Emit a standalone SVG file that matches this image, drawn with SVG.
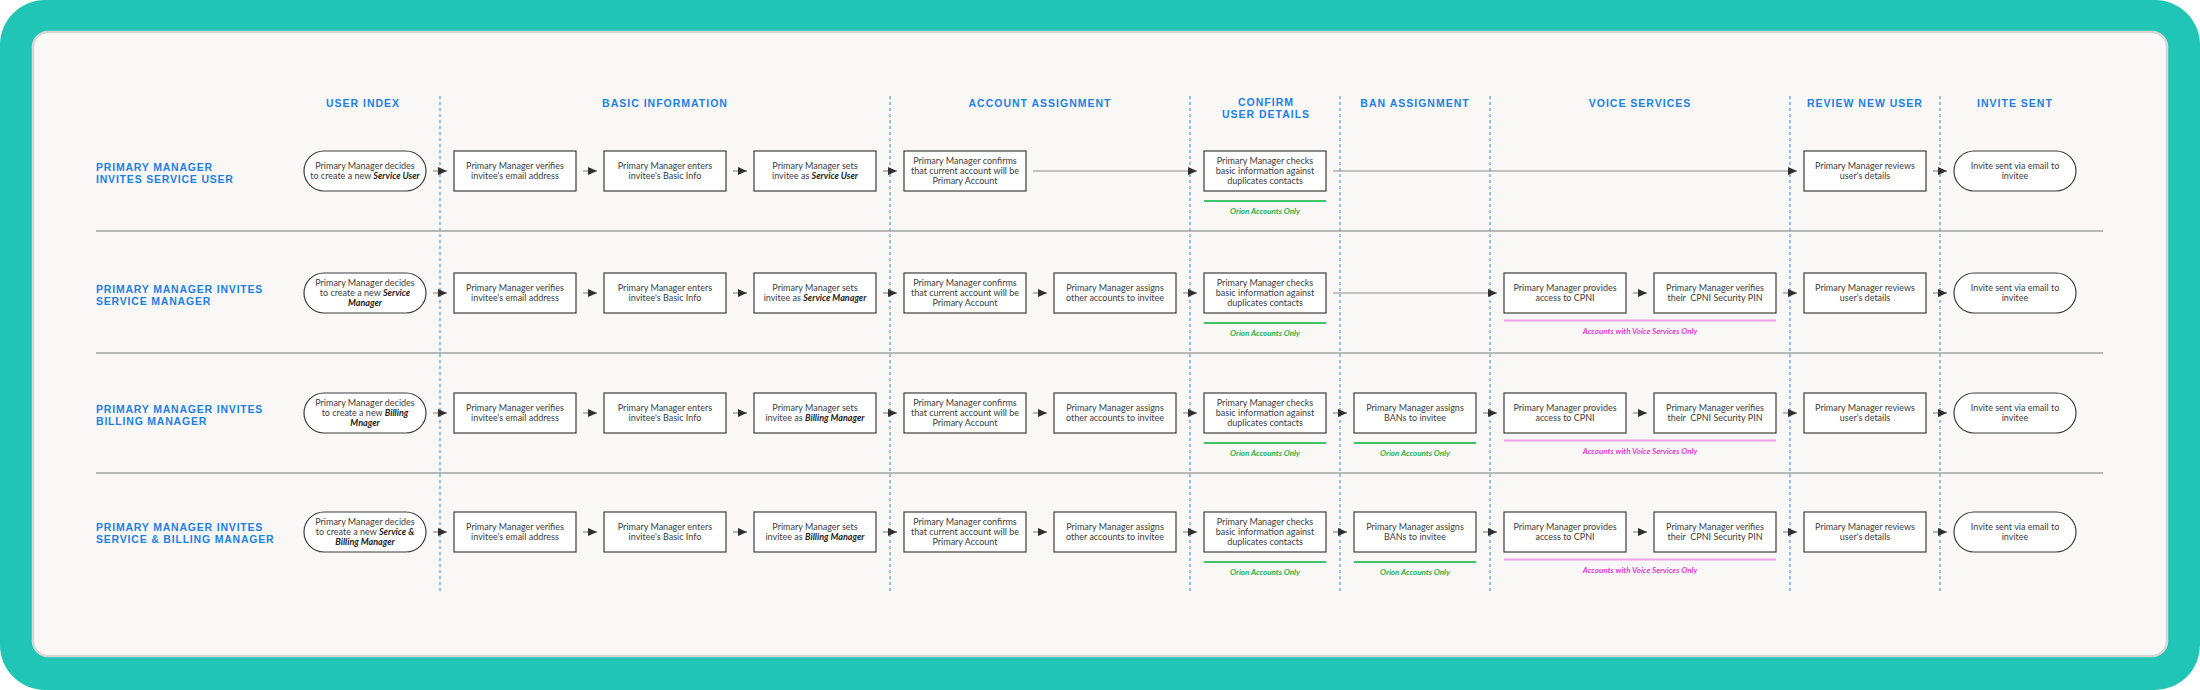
<svg xmlns="http://www.w3.org/2000/svg" width="2200" height="690" viewBox="0 0 2200 690">
<style>
.n{fill:#fff;stroke:#3d3d3d;stroke-width:1.2}
.t{font-family:Lato,"Liberation Sans",sans-serif;font-size:9px;fill:#3c3c3c;text-anchor:middle}
.b{font-weight:bold;font-style:italic;fill:#222}
.h{font-family:"Liberation Sans",Arial,sans-serif;font-weight:bold;font-size:10.5px;letter-spacing:1px;fill:#1d7fe2;text-anchor:middle}
.r{font-family:"Liberation Sans",Arial,sans-serif;font-weight:bold;font-size:10.5px;letter-spacing:0.8px;fill:#1d7fe2}
.gl{stroke:#3ec46a;stroke-width:2}
.pl{stroke:#f0a2e6;stroke-width:2}
.g{font-family:Lato,"Liberation Sans",sans-serif;font-size:8px;font-weight:bold;font-style:italic;fill:#22b14c;text-anchor:middle}
.p{font-family:Lato,"Liberation Sans",sans-serif;font-size:8px;font-weight:bold;font-style:italic;fill:#e03ccc;text-anchor:middle}
.v{stroke:#2a86e8;stroke-width:1;stroke-dasharray:3 3;fill:none}
.s{stroke:#a3a3a3;stroke-width:1.5}
.c{stroke:#8a8a8a;stroke-width:1.2;fill:none;marker-end:url(#ah)}
</style>
<defs>
<marker id="ah" markerUnits="userSpaceOnUse" markerWidth="10" markerHeight="10" refX="9" refY="4" orient="auto">
<path d="M0,0 L9,4 L0,8 z" fill="#2f2f2f"/>
</marker>
</defs>
<rect x="0" y="0" width="2200" height="690" rx="45" fill="#21c5b5"/>
<rect x="33" y="32" width="2134" height="624" rx="15" fill="#f9f8f6" stroke="#d6d6d6" stroke-width="2.5"/>

<g id="lanes">
<path class="v" d="M440 96V593M890 96V593M1190 96V593M1340 96V593M1490 96V593M1790 96V593M1940 96V593"/>
<path class="s" d="M96 231H2103M96 353H2103M96 473H2103"/>
</g>

<g id="headings">
<text class="h" x="363" y="106.5">USER INDEX</text>
<text class="h" x="665" y="106.5">BASIC INFORMATION</text>
<text class="h" x="1040" y="106.5">ACCOUNT ASSIGNMENT</text>
<text class="h" x="1266" y="106">CONFIRM</text>
<text class="h" x="1266" y="118">USER DETAILS</text>
<text class="h" x="1415" y="106.5">BAN ASSIGNMENT</text>
<text class="h" x="1640" y="106.5">VOICE SERVICES</text>
<text class="h" x="1865" y="106.5">REVIEW NEW USER</text>
<text class="h" x="2015" y="106.5">INVITE SENT</text>
</g>

<g id="row-labels">
<text class="r" x="96" y="170.5">PRIMARY MANAGER</text>
<text class="r" x="96" y="182.5">INVITES SERVICE USER</text>
<text class="r" x="96" y="292.5">PRIMARY MANAGER INVITES</text>
<text class="r" x="96" y="304.5">SERVICE MANAGER</text>
<text class="r" x="96" y="412.5">PRIMARY MANAGER INVITES</text>
<text class="r" x="96" y="424.5">BILLING MANAGER</text>
<text class="r" x="96" y="531">PRIMARY MANAGER INVITES</text>
<text class="r" x="96" y="543">SERVICE &amp; BILLING MANAGER</text>
</g>

<g id="connectors">
<path class="c" d="M433 171H447"/><path class="c" d="M583 171H597"/><path class="c" d="M733 171H747"/><path class="c" d="M883 171H897"/><path class="c" d="M1033 171H1197"/><path class="c" d="M1333 171H1797"/><path class="c" d="M1933 171H1947"/>
<path class="c" d="M433 293H447"/><path class="c" d="M583 293H597"/><path class="c" d="M733 293H747"/><path class="c" d="M883 293H897"/><path class="c" d="M1033 293H1047"/><path class="c" d="M1183 293H1197"/><path class="c" d="M1333 293H1497"/><path class="c" d="M1633 293H1647"/><path class="c" d="M1783 293H1797"/><path class="c" d="M1933 293H1947"/>
<path class="c" d="M433 413H447"/><path class="c" d="M583 413H597"/><path class="c" d="M733 413H747"/><path class="c" d="M883 413H897"/><path class="c" d="M1033 413H1047"/><path class="c" d="M1183 413H1197"/><path class="c" d="M1333 413H1347"/><path class="c" d="M1483 413H1497"/><path class="c" d="M1633 413H1647"/><path class="c" d="M1783 413H1797"/><path class="c" d="M1933 413H1947"/>
<path class="c" d="M433 532H447"/><path class="c" d="M583 532H597"/><path class="c" d="M733 532H747"/><path class="c" d="M883 532H897"/><path class="c" d="M1033 532H1047"/><path class="c" d="M1183 532H1197"/><path class="c" d="M1333 532H1347"/><path class="c" d="M1483 532H1497"/><path class="c" d="M1633 532H1647"/><path class="c" d="M1783 532H1797"/><path class="c" d="M1933 532H1947"/>
</g>

<g id="notes">
<path class="gl" d="M1204 201H1326M1204 323H1326M1204 443H1326M1354 443H1476M1204 562H1326M1354 562H1476"/>
<path class="pl" d="M1504 320.5H1776M1504 440.5H1776M1504 559.5H1776"/>
<text class="g" x="1265" y="214">Orion Accounts Only</text>
<text class="g" x="1265" y="336">Orion Accounts Only</text>
<text class="g" x="1265" y="456">Orion Accounts Only</text>
<text class="g" x="1415" y="456">Orion Accounts Only</text>
<text class="g" x="1265" y="575">Orion Accounts Only</text>
<text class="g" x="1415" y="575">Orion Accounts Only</text>
<text class="p" x="1640" y="333.5">Accounts with Voice Services Only</text>
<text class="p" x="1640" y="453.5">Accounts with Voice Services Only</text>
<text class="p" x="1640" y="572.5">Accounts with Voice Services Only</text>
</g>

<!-- Row 1 -->
<g id="r1-start"><rect class="n" x="304" y="151" width="122" height="40" rx="20"/><text class="t" x="365" y="169">Primary Manager decides</text><text class="t" x="365" y="179">to create a new <tspan class="b">Service User</tspan></text></g>
<g id="r1-verify"><rect class="n" x="454" y="151" width="122" height="40"/><text class="t" x="515" y="169">Primary Manager verifies</text><text class="t" x="515" y="179">invitee's email address</text></g>
<g id="r1-enter"><rect class="n" x="604" y="151" width="122" height="40"/><text class="t" x="665" y="169">Primary Manager enters</text><text class="t" x="665" y="179">invitee's Basic Info</text></g>
<g id="r1-set"><rect class="n" x="754" y="151" width="122" height="40"/><text class="t" x="815" y="169">Primary Manager sets</text><text class="t" x="815" y="179">invitee as <tspan class="b">Service User</tspan></text></g>
<g id="r1-confirm"><rect class="n" x="904" y="151" width="122" height="40"/><text class="t" x="965" y="164">Primary Manager confirms</text><text class="t" x="965" y="174">that current account will be</text><text class="t" x="965" y="184">Primary Account</text></g>
<g id="r1-check"><rect class="n" x="1204" y="151" width="122" height="40"/><text class="t" x="1265" y="164">Primary Manager checks</text><text class="t" x="1265" y="174">basic information against</text><text class="t" x="1265" y="184">duplicates contacts</text></g>
<g id="r1-review"><rect class="n" x="1804" y="151" width="122" height="40"/><text class="t" x="1865" y="169">Primary Manager reviews</text><text class="t" x="1865" y="179">user's details</text></g>
<g id="r1-sent"><rect class="n" x="1954" y="151" width="122" height="40" rx="20"/><text class="t" x="2015" y="169">Invite sent via email to</text><text class="t" x="2015" y="179">invitee</text></g>

<!-- Row 2 -->
<g id="r2-start"><rect class="n" x="304" y="273" width="122" height="40" rx="20"/><text class="t" x="365" y="286">Primary Manager decides</text><text class="t" x="365" y="296">to create a new <tspan class="b">Service</tspan></text><text class="t b" x="365" y="306">Manager</text></g>
<g id="r2-verify"><rect class="n" x="454" y="273" width="122" height="40"/><text class="t" x="515" y="291">Primary Manager verifies</text><text class="t" x="515" y="301">invitee's email address</text></g>
<g id="r2-enter"><rect class="n" x="604" y="273" width="122" height="40"/><text class="t" x="665" y="291">Primary Manager enters</text><text class="t" x="665" y="301">invitee's Basic Info</text></g>
<g id="r2-set"><rect class="n" x="754" y="273" width="122" height="40"/><text class="t" x="815" y="291">Primary Manager sets</text><text class="t" x="815" y="301">invitee as <tspan class="b">Service Manager</tspan></text></g>
<g id="r2-confirm"><rect class="n" x="904" y="273" width="122" height="40"/><text class="t" x="965" y="286">Primary Manager confirms</text><text class="t" x="965" y="296">that current account will be</text><text class="t" x="965" y="306">Primary Account</text></g>
<g id="r2-assign"><rect class="n" x="1054" y="273" width="122" height="40"/><text class="t" x="1115" y="291">Primary Manager assigns</text><text class="t" x="1115" y="301">other accounts to invitee</text></g>
<g id="r2-check"><rect class="n" x="1204" y="273" width="122" height="40"/><text class="t" x="1265" y="286">Primary Manager checks</text><text class="t" x="1265" y="296">basic information against</text><text class="t" x="1265" y="306">duplicates contacts</text></g>
<g id="r2-cpni"><rect class="n" x="1504" y="273" width="122" height="40"/><text class="t" x="1565" y="291">Primary Manager provides</text><text class="t" x="1565" y="301">access to CPNI</text></g>
<g id="r2-pin"><rect class="n" x="1654" y="273" width="122" height="40"/><text class="t" x="1715" y="291">Primary Manager verifies</text><text class="t" x="1715" y="301" xml:space="preserve">their  CPNI Security PIN</text></g>
<g id="r2-review"><rect class="n" x="1804" y="273" width="122" height="40"/><text class="t" x="1865" y="291">Primary Manager reviews</text><text class="t" x="1865" y="301">user's details</text></g>
<g id="r2-sent"><rect class="n" x="1954" y="273" width="122" height="40" rx="20"/><text class="t" x="2015" y="291">Invite sent via email to</text><text class="t" x="2015" y="301">invitee</text></g>

<!-- Row 3 -->
<g id="r3-start"><rect class="n" x="304" y="393" width="122" height="40" rx="20"/><text class="t" x="365" y="406">Primary Manager decides</text><text class="t" x="365" y="416">to create a new <tspan class="b">Billing</tspan></text><text class="t b" x="365" y="426">Mnager</text></g>
<g id="r3-verify"><rect class="n" x="454" y="393" width="122" height="40"/><text class="t" x="515" y="411">Primary Manager verifies</text><text class="t" x="515" y="421">invitee's email address</text></g>
<g id="r3-enter"><rect class="n" x="604" y="393" width="122" height="40"/><text class="t" x="665" y="411">Primary Manager enters</text><text class="t" x="665" y="421">invitee's Basic Info</text></g>
<g id="r3-set"><rect class="n" x="754" y="393" width="122" height="40"/><text class="t" x="815" y="411">Primary Manager sets</text><text class="t" x="815" y="421">invitee as <tspan class="b">Billing Manager</tspan></text></g>
<g id="r3-confirm"><rect class="n" x="904" y="393" width="122" height="40"/><text class="t" x="965" y="406">Primary Manager confirms</text><text class="t" x="965" y="416">that current account will be</text><text class="t" x="965" y="426">Primary Account</text></g>
<g id="r3-assign"><rect class="n" x="1054" y="393" width="122" height="40"/><text class="t" x="1115" y="411">Primary Manager assigns</text><text class="t" x="1115" y="421">other accounts to invitee</text></g>
<g id="r3-check"><rect class="n" x="1204" y="393" width="122" height="40"/><text class="t" x="1265" y="406">Primary Manager checks</text><text class="t" x="1265" y="416">basic information against</text><text class="t" x="1265" y="426">duplicates contacts</text></g>
<g id="r3-ban"><rect class="n" x="1354" y="393" width="122" height="40"/><text class="t" x="1415" y="411">Primary Manager assigns</text><text class="t" x="1415" y="421">BANs to invitee</text></g>
<g id="r3-cpni"><rect class="n" x="1504" y="393" width="122" height="40"/><text class="t" x="1565" y="411">Primary Manager provides</text><text class="t" x="1565" y="421">access to CPNI</text></g>
<g id="r3-pin"><rect class="n" x="1654" y="393" width="122" height="40"/><text class="t" x="1715" y="411">Primary Manager verifies</text><text class="t" x="1715" y="421" xml:space="preserve">their  CPNI Security PIN</text></g>
<g id="r3-review"><rect class="n" x="1804" y="393" width="122" height="40"/><text class="t" x="1865" y="411">Primary Manager reviews</text><text class="t" x="1865" y="421">user's details</text></g>
<g id="r3-sent"><rect class="n" x="1954" y="393" width="122" height="40" rx="20"/><text class="t" x="2015" y="411">Invite sent via email to</text><text class="t" x="2015" y="421">invitee</text></g>

<!-- Row 4 -->
<g id="r4-start"><rect class="n" x="304" y="512" width="122" height="40" rx="20"/><text class="t" x="365" y="525">Primary Manager decides</text><text class="t" x="365" y="535">to create a new <tspan class="b">Service &amp;</tspan></text><text class="t b" x="365" y="545">Billing Manager</text></g>
<g id="r4-verify"><rect class="n" x="454" y="512" width="122" height="40"/><text class="t" x="515" y="530">Primary Manager verifies</text><text class="t" x="515" y="540">invitee's email address</text></g>
<g id="r4-enter"><rect class="n" x="604" y="512" width="122" height="40"/><text class="t" x="665" y="530">Primary Manager enters</text><text class="t" x="665" y="540">invitee's Basic Info</text></g>
<g id="r4-set"><rect class="n" x="754" y="512" width="122" height="40"/><text class="t" x="815" y="530">Primary Manager sets</text><text class="t" x="815" y="540">invitee as <tspan class="b">Billing Manager</tspan></text></g>
<g id="r4-confirm"><rect class="n" x="904" y="512" width="122" height="40"/><text class="t" x="965" y="525">Primary Manager confirms</text><text class="t" x="965" y="535">that current account will be</text><text class="t" x="965" y="545">Primary Account</text></g>
<g id="r4-assign"><rect class="n" x="1054" y="512" width="122" height="40"/><text class="t" x="1115" y="530">Primary Manager assigns</text><text class="t" x="1115" y="540">other accounts to invitee</text></g>
<g id="r4-check"><rect class="n" x="1204" y="512" width="122" height="40"/><text class="t" x="1265" y="525">Primary Manager checks</text><text class="t" x="1265" y="535">basic information against</text><text class="t" x="1265" y="545">duplicates contacts</text></g>
<g id="r4-ban"><rect class="n" x="1354" y="512" width="122" height="40"/><text class="t" x="1415" y="530">Primary Manager assigns</text><text class="t" x="1415" y="540">BANs to invitee</text></g>
<g id="r4-cpni"><rect class="n" x="1504" y="512" width="122" height="40"/><text class="t" x="1565" y="530">Primary Manager provides</text><text class="t" x="1565" y="540">access to CPNI</text></g>
<g id="r4-pin"><rect class="n" x="1654" y="512" width="122" height="40"/><text class="t" x="1715" y="530">Primary Manager verifies</text><text class="t" x="1715" y="540" xml:space="preserve">their  CPNI Security PIN</text></g>
<g id="r4-review"><rect class="n" x="1804" y="512" width="122" height="40"/><text class="t" x="1865" y="530">Primary Manager reviews</text><text class="t" x="1865" y="540">user's details</text></g>
<g id="r4-sent"><rect class="n" x="1954" y="512" width="122" height="40" rx="20"/><text class="t" x="2015" y="530">Invite sent via email to</text><text class="t" x="2015" y="540">invitee</text></g>
</svg>
